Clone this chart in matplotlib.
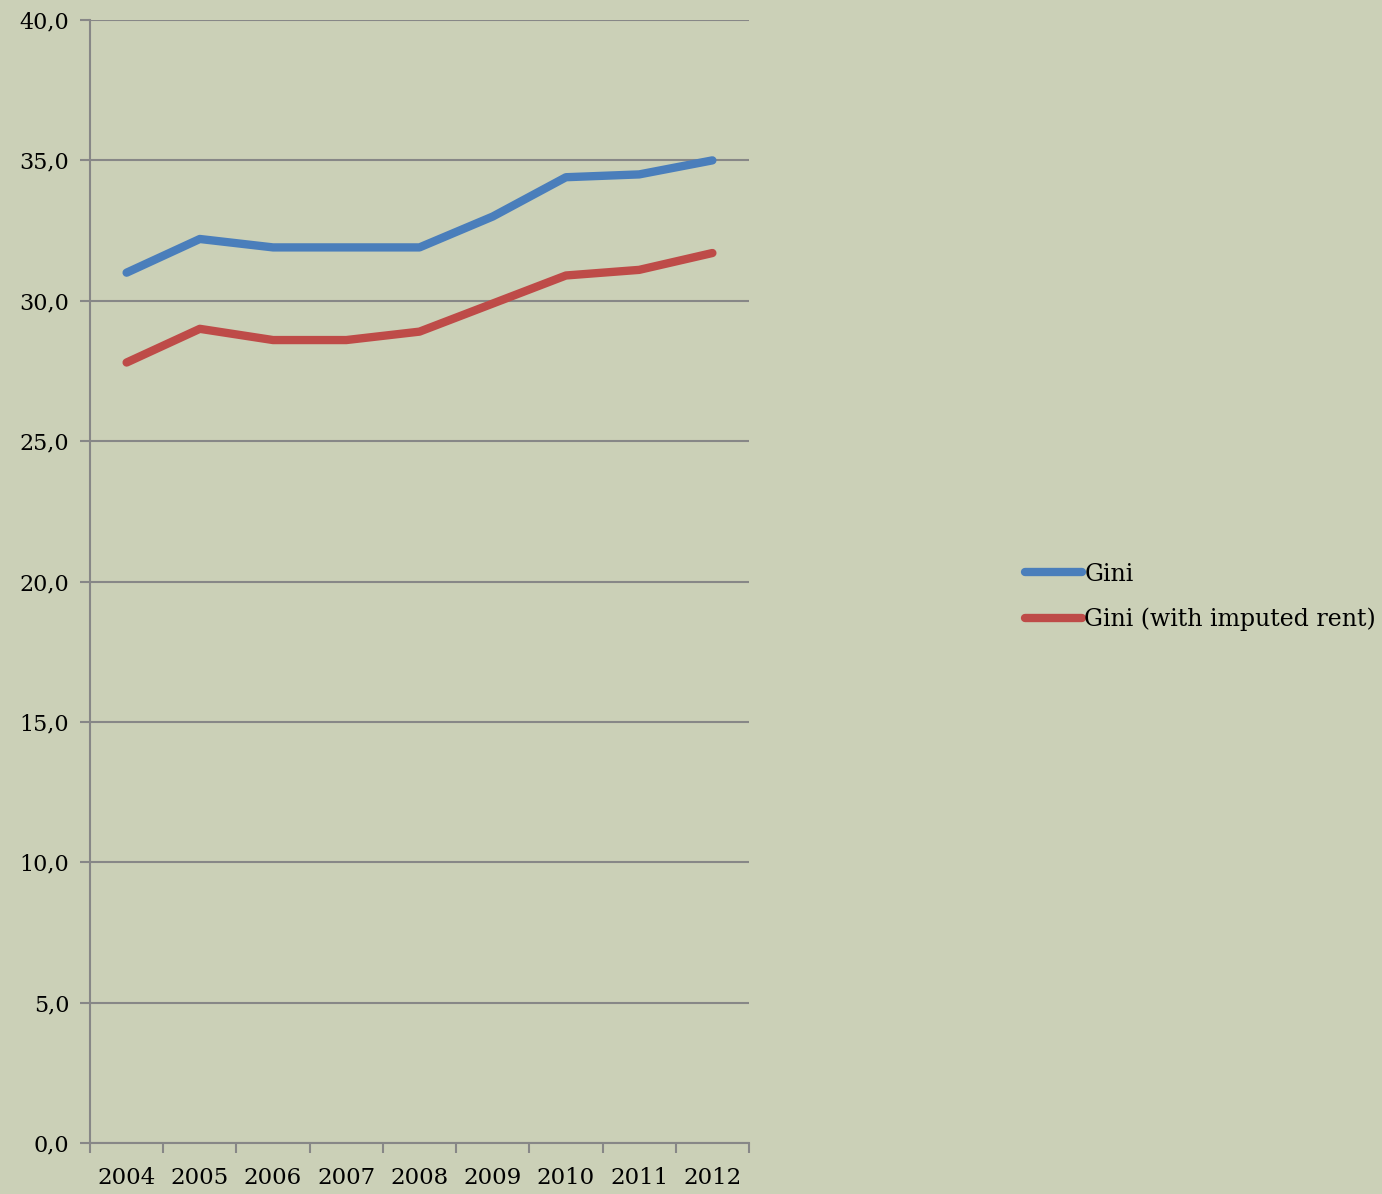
import matplotlib.pyplot as plt
import numpy as np

years = ['2004', '2005', '2006', '2007', '2008', '2009', '2010', '2011', '2012']
gini = [31.0, 32.2, 31.9, 31.9, 31.9, 33.0, 34.4, 34.5, 35.0]
gini_rent = [27.8, 29.0, 28.6, 28.6, 28.9, 29.9, 30.9, 31.1, 31.7]
y_ticks = [0, 5, 10, 15, 20, 25, 30, 35, 40]

bg = '#cbd0b7'
axis_col = '#878787'
plt.rcParams['font.family'] = ['DejaVu Serif']

fig = plt.figure(figsize=(13.82, 11.94), dpi=100, facecolor=bg)
ax = fig.add_axes([90 / 1382, 1 - 1143 / 1194, (749 - 90) / 1382, (1143 - 20) / 1194])
ax.set_facecolor(bg)

x = np.arange(len(years))
l1, = ax.plot(x, gini, color='#4a7ebb', lw=6, solid_capstyle='round', solid_joinstyle='round')
l2, = ax.plot(x, gini_rent, color='#be4b48', lw=6, solid_capstyle='round', solid_joinstyle='round')

ax.set_xlim(-0.5, len(years) - 0.5)
ax.set_ylim(0, 40)
ax.set_yticks(y_ticks)
ax.set_yticklabels([f'{v:.1f}'.replace('.', ',') for v in y_ticks], fontsize=16)
ax.set_xticks(np.arange(-0.5, len(years), 1.0))
ax.set_xticklabels([])
ax.set_xticks(x, minor=True)
ax.set_xticklabels(years, minor=True, fontsize=16.5)
ax.tick_params(axis='x', which='minor', length=0, pad=17)
ax.tick_params(axis='x', which='major', length=7, width=1.5, color=axis_col)
ax.tick_params(axis='y', length=7, width=1.5, color=axis_col, pad=8)

ax.grid(axis='y', color=axis_col, lw=1.5)
ax.set_axisbelow(True)
for s in ['top', 'right']:
    ax.spines[s].set_visible(False)
for s in ['left', 'bottom']:
    ax.spines[s].set_color(axis_col)
    ax.spines[s].set_linewidth(1.5)

fig.legend([l1, l2], ['Gini', 'Gini (with imputed rent)'], loc='center left',
           bbox_to_anchor=(1004 / 1382, 1 - 597 / 1194), frameon=False,
           fontsize=17, handlelength=2.4, handletextpad=0.1, labelspacing=0.95)

fig.savefig('out.png', dpi=100, facecolor=bg)
